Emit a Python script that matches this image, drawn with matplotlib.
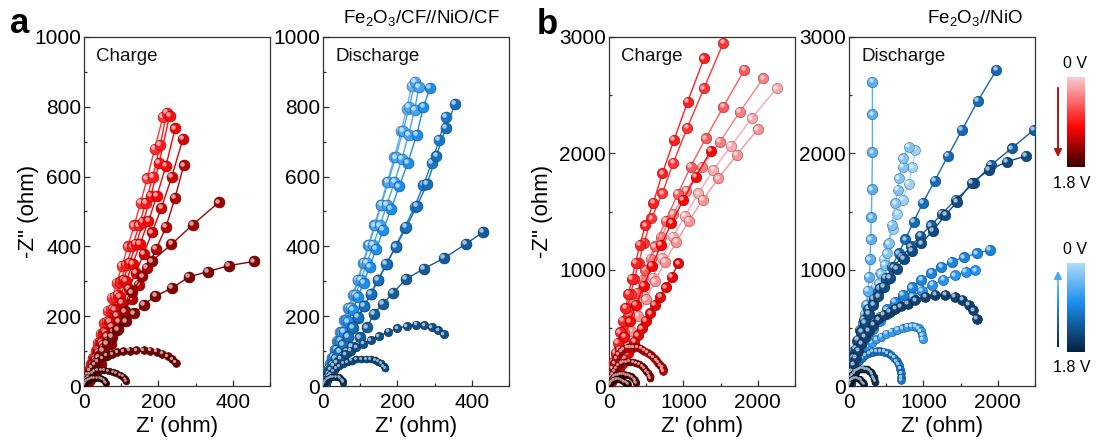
import matplotlib
matplotlib.use("Agg")
import matplotlib.pyplot as plt
import numpy as np
from matplotlib.colors import LinearSegmentedColormap, to_rgb
from matplotlib.transforms import offset_copy
from matplotlib.ticker import MultipleLocator
from matplotlib.collections import LineCollection

plt.rcParams.update({
    "font.family": "Liberation Sans",
    "mathtext.fontset": "custom",
    "mathtext.rm": "Liberation Sans",
    "mathtext.it": "Liberation Sans:italic",
    "axes.linewidth": 0.9,
    "axes.edgecolor": "#333333",
})

# ---- Fe2O3/CF//NiO/CF, charge (Z', -Z'' in ohm), one curve per potential ----
A_CHG_V = [0.76, 0.86, 0.95, 1.04, 1.19, 1.30, 1.40, 1.51, 1.58, 1.69, 1.80]
A_CHG_X = [
    [1, 3, 6, 10, 14, 19, 25, 31, 38, 46, 55, 65, 76, 88, 102, 118, 135, 152, 170, 190, 212],
    [1, 4, 7, 11, 16, 21, 27, 34, 42, 51, 61, 72, 84, 98, 113, 130, 148, 166, 185, 205, 222],
    [2, 4, 8, 12, 17, 23, 29, 37, 45, 55, 66, 78, 91, 106, 122, 140, 159, 180, 202, 230],
    [2, 5, 9, 13, 18, 24, 31, 39, 48, 58, 70, 83, 97, 113, 131, 151, 173, 196, 220, 245],
    [2, 5, 9, 14, 19, 26, 33, 41, 51, 62, 74, 88, 103, 120, 139, 160, 183, 208, 236, 266],
    [2, 5, 9, 14, 20, 27, 35, 44, 54, 66, 79, 94, 110, 128, 148, 170, 194, 220, 245, 268],
    [2, 5, 9, 14, 20, 27, 36, 46, 58, 72, 88, 110, 128, 157, 182, 235, 292, 362],
    [2, 5, 10, 16, 23, 31, 40, 50, 62, 76, 92, 112, 135, 161, 192, 236, 281, 333, 390, 457],
    [1, 3, 6, 10, 15, 21, 28, 37, 48, 61, 75, 90, 106, 123, 141, 160, 178, 195, 211, 225, 237, 246],
    [1, 3, 6, 10, 15, 21, 28, 36, 45, 55, 66, 77, 87, 96, 104, 110, 114],
    [1, 3, 6, 10, 15, 21, 28, 35, 42, 48, 53, 57, 60],
]
A_CHG_Y = [
    [3, 10, 20, 32, 46, 62, 80, 100, 124, 150, 180, 214, 252, 295, 344, 400, 460, 525, 595, 680, 770],
    [3, 10, 20, 32, 46, 62, 81, 102, 126, 153, 183, 217, 255, 298, 346, 400, 460, 525, 600, 690, 782],
    [3, 10, 20, 32, 46, 62, 81, 103, 127, 155, 186, 221, 260, 303, 352, 406, 470, 545, 640, 775],
    [3, 10, 20, 32, 46, 62, 80, 101, 125, 152, 183, 218, 256, 300, 350, 408, 472, 545, 630, 738],
    [3, 10, 19, 30, 43, 58, 75, 95, 117, 142, 170, 202, 238, 278, 325, 378, 440, 510, 600, 708],
    [3, 9, 18, 28, 40, 54, 70, 88, 108, 130, 155, 183, 215, 250, 290, 338, 392, 455, 540, 632],
    [1, 4, 8, 14, 22, 32, 46, 64, 88, 120, 161, 213, 268, 314, 357, 406, 462, 526],
    [5, 14, 25, 37, 50, 65, 82, 100, 120, 140, 162, 185, 208, 233, 258, 280, 312, 328, 345, 357],
    [5, 14, 24, 34, 44, 54, 63, 72, 80, 87, 92, 96, 99, 101, 102, 102, 101, 98, 93, 86, 77, 67],
    [4, 11, 19, 26, 33, 38, 42, 45, 46, 46, 44, 41, 37, 32, 27, 21, 15],
    [3, 8, 13, 18, 21, 23, 24, 24, 22, 19, 16, 12, 8],
]

# ---- Fe2O3/CF//NiO/CF, discharge ----
A_DIS_V = [0.45, 0.54, 0.59, 0.81, 0.99, 1.08, 1.26, 1.37, 1.44, 1.62]
A_DIS_X = [
    [1, 3, 6, 9, 13, 18, 24, 31, 38, 47, 57, 68, 80, 93, 107, 122, 138, 155, 173, 192, 210, 225, 238],
    [1, 3, 6, 10, 14, 19, 25, 32, 40, 49, 59, 70, 82, 95, 109, 124, 140, 157, 175, 195, 215, 232, 248],
    [2, 4, 7, 11, 16, 21, 27, 34, 43, 52, 63, 75, 88, 102, 118, 135, 153, 172, 192, 212, 230, 246, 258],
    [2, 4, 8, 12, 17, 23, 30, 38, 47, 57, 68, 80, 94, 109, 125, 143, 162, 183, 205, 228, 252, 270, 288],
    [2, 5, 9, 14, 20, 27, 35, 44, 55, 67, 80, 95, 111, 129, 149, 171, 195, 220, 246, 270, 292, 312, 330],
    [2, 5, 9, 14, 20, 27, 35, 44, 54, 66, 79, 94, 110, 128, 148, 170, 196, 224, 252, 280, 305, 330, 355],
    [2, 5, 9, 14, 20, 27, 35, 44, 54, 65, 78, 99, 119, 136, 161, 188, 224, 271, 325, 384, 430],
    [2, 5, 9, 14, 20, 28, 37, 48, 60, 74, 90, 108, 128, 150, 175, 200, 225, 250, 272, 292, 310, 325],
    [2, 5, 9, 14, 20, 27, 35, 44, 54, 65, 77, 90, 103, 116, 128, 139, 149, 157, 163, 167],
    [1, 3, 6, 10, 15, 21, 28, 35, 42, 47, 51, 54, 55],
]
A_DIS_Y = [
    [3, 10, 20, 32, 46, 62, 81, 103, 128, 156, 188, 223, 262, 305, 352, 404, 460, 520, 585, 655, 730, 795, 860],
    [3, 10, 20, 32, 46, 62, 81, 103, 128, 156, 188, 223, 262, 305, 352, 404, 460, 520, 585, 655, 730, 800, 872],
    [3, 10, 20, 32, 46, 62, 81, 103, 128, 156, 188, 223, 262, 305, 352, 404, 460, 520, 585, 650, 720, 790, 858],
    [4, 12, 22, 34, 48, 64, 83, 104, 128, 155, 185, 218, 255, 296, 342, 392, 447, 507, 572, 640, 720, 800, 855],
    [4, 11, 21, 33, 46, 61, 78, 97, 118, 141, 167, 196, 228, 264, 304, 349, 399, 454, 514, 575, 640, 705, 770],
    [4, 12, 22, 34, 47, 62, 79, 98, 119, 142, 168, 197, 229, 265, 305, 350, 400, 455, 515, 580, 660, 740, 808],
    [4, 11, 19, 28, 38, 49, 60, 72, 84, 97, 112, 139, 168, 206, 235, 267, 307, 336, 366, 407, 441],
    [5, 14, 25, 36, 47, 58, 69, 80, 91, 101, 111, 121, 132, 143, 155, 165, 172, 176, 174, 168, 160, 149],
    [4, 11, 19, 27, 35, 43, 51, 58, 64, 69, 73, 76, 78, 78, 77, 74, 70, 65, 58, 51],
    [3, 8, 14, 19, 23, 26, 27, 27, 25, 22, 18, 14, 10],
]

# ---- Fe2O3//NiO, charge ----
B_CHG_V = [0.18, 0.29, 0.40, 0.58, 0.76, 0.86, 1.01, 1.08, 1.30, 1.48, 1.66, 1.80]
B_CHG_X = [
    [5, 17, 48, 88, 138, 200, 275, 365, 470, 585, 715, 860, 1020, 1201, 1402, 1640, 1917, 2253],
    [6, 20, 52, 93, 145, 210, 290, 385, 495, 615, 755, 905, 1075, 1260, 1470, 1716, 1998],
    [7, 24, 50, 84, 128, 185, 255, 340, 440, 560, 700, 860, 1040, 1245, 1492, 1760, 2074],
    [6, 25, 54, 92, 140, 200, 275, 370, 485, 612, 762, 923, 1098, 1299, 1537, 1819],
    [5, 15, 31, 50, 73, 99, 129, 163, 201, 243, 290, 342, 400, 470, 570, 717, 865, 1053, 1277, 1537],
    [4, 13, 27, 45, 66, 90, 118, 148, 182, 220, 262, 308, 358, 412, 490, 596, 717, 874, 1057, 1277],
    [8, 23, 55, 95, 145, 207, 280, 365, 465, 575, 700, 840, 998, 1165, 1366],
    [12, 30, 52, 78, 108, 140, 175, 212, 252, 295, 340, 388, 440, 495, 555, 618, 690, 766, 842, 932],
    [6, 16, 30, 48, 70, 96, 126, 160, 198, 240, 285, 332, 380, 428, 475, 520, 562, 600, 635, 665, 690, 710, 722, 725],
    [5, 14, 28, 46, 68, 94, 124, 158, 195, 235, 277, 320, 362, 402, 440, 474, 503, 527, 545, 556],
    [4, 11, 22, 36, 53, 73, 96, 121, 148, 176, 205, 234, 262, 289, 313, 333, 348, 357, 361],
    [3, 8, 16, 26, 39, 55, 73, 93, 115, 138, 162, 185, 206, 225, 240, 250],
]
B_CHG_Y = [
    [10, 35, 95, 170, 260, 365, 485, 620, 770, 930, 1100, 1280, 1460, 1656, 1857, 2063, 2301, 2559],
    [12, 40, 100, 170, 255, 355, 470, 600, 745, 900, 1070, 1240, 1420, 1600, 1785, 1986, 2206],
    [20, 70, 140, 225, 330, 450, 590, 740, 910, 1090, 1280, 1480, 1680, 1885, 2100, 2358, 2645],
    [15, 60, 130, 220, 330, 460, 620, 800, 1000, 1200, 1420, 1650, 1885, 2129, 2401, 2716],
    [15, 45, 90, 145, 210, 285, 370, 460, 560, 670, 790, 920, 1060, 1230, 1440, 1656, 1920, 2221, 2559, 2951],
    [15, 45, 90, 145, 210, 285, 370, 460, 560, 670, 790, 920, 1060, 1210, 1380, 1576, 1828, 2115, 2444, 2817],
    [20, 55, 125, 210, 310, 425, 555, 700, 860, 1030, 1210, 1400, 1599, 1799, 2020],
    [14, 34, 59, 88, 120, 155, 193, 235, 280, 328, 380, 435, 495, 560, 625, 696, 768, 848, 940, 1054],
    [25, 65, 110, 155, 198, 237, 270, 297, 317, 330, 336, 336, 331, 320, 305, 287, 266, 244, 222, 200, 180, 162, 145, 130],
    [15, 42, 72, 102, 130, 155, 176, 192, 203, 209, 210, 207, 199, 187, 171, 152, 131, 109, 87, 66],
    [10, 26, 42, 57, 70, 81, 90, 96, 100, 102, 101, 98, 92, 84, 74, 62, 49, 36, 24],
    [6, 15, 24, 33, 41, 48, 53, 56, 57, 56, 52, 46, 38, 30, 22, 14],
]

# ---- Fe2O3//NiO, discharge ----
B_DIS_V = [0.11, 0.25, 0.47, 0.65, 0.76, 0.90, 1.04, 1.12, 1.26, 1.40, 1.51, 1.66, 1.80]
B_DIS_X = [
    [6, 18, 36, 60, 90, 125, 165, 208, 255, 305, 360, 415, 472, 530, 590, 650, 720, 802, 850, 892],
    [7, 20, 40, 65, 95, 130, 170, 215, 265, 335, 405, 432, 486, 509, 531, 576, 621, 658, 667, 721, 721, 802],
    [10, 30, 55, 82, 110, 138, 165, 190, 212, 235, 255, 272, 285, 292, 300, 308, 315, 315, 315],
    [5, 15, 30, 52, 80, 115, 155, 200, 250, 305, 365, 430, 500, 575, 650, 720, 785, 845, 895, 935, 965, 985, 990],
    [6, 22, 55, 100, 160, 235, 320, 415, 515, 620, 730, 850, 980, 1120, 1270, 1420, 1570, 1700],
    [8, 27, 72, 126, 180, 252, 329, 419, 509, 612, 721, 847, 973, 1108, 1243, 1387, 1545, 1716, 1892],
    [5, 14, 28, 46, 70, 100, 135, 175, 220, 268, 318, 370, 420, 470, 520, 565, 605, 640, 668, 688, 700, 705, 700],
    [8, 27, 59, 104, 149, 207, 261, 329, 396, 495, 576, 667, 757, 869, 995, 1153, 1329, 1518, 1734, 1982],
    [5, 18, 40, 68, 104, 148, 200, 260, 330, 410, 500, 600, 710, 830, 960, 1100, 1250, 1432, 1676, 1910, 2185, 2480],
    [5, 16, 34, 58, 88, 124, 166, 214, 268, 328, 395, 470, 553, 640, 740, 850, 973, 1126, 1297, 1455, 1649, 1883, 2122, 2378],
    [5, 16, 34, 58, 88, 124, 166, 214, 268, 328, 395, 470, 545, 622, 700, 790, 892, 1027, 1162, 1297, 1420, 1523, 1610, 1670, 1720],
    [3, 9, 18, 30, 46, 65, 88, 112, 138, 165, 192, 220, 246, 270, 292, 312, 330, 342, 348],
    [2, 6, 12, 20, 30, 42, 56, 72, 90, 110, 130, 150, 168, 182, 192, 198],
]
B_DIS_Y = [
    [20, 65, 125, 195, 275, 360, 450, 545, 645, 750, 860, 975, 1095, 1220, 1350, 1480, 1600, 1736, 1880, 2029],
    [25, 75, 140, 215, 300, 390, 485, 580, 680, 780, 883, 968, 1040, 1140, 1226, 1384, 1571, 1685, 1785, 1885, 1957, 2058],
    [25, 80, 150, 225, 300, 380, 460, 540, 620, 700, 819, 940, 1089, 1261, 1450, 1691, 2009, 2335, 2616],
    [15, 50, 95, 140, 185, 228, 268, 305, 340, 372, 400, 425, 448, 468, 485, 498, 510, 515, 510, 495, 470, 438, 400],
    [20, 95, 180, 265, 345, 420, 490, 555, 615, 670, 720, 770, 820, 870, 915, 950, 980, 995],
    [25, 123, 223, 309, 381, 453, 524, 596, 659, 725, 782, 848, 911, 974, 1026, 1069, 1106, 1140, 1169],
    [12, 40, 76, 113, 150, 185, 215, 242, 265, 282, 294, 300, 300, 295, 283, 265, 243, 215, 183, 148, 112, 78, 50],
    [30, 109, 195, 295, 395, 510, 610, 711, 811, 911, 1026, 1140, 1261, 1413, 1576, 1765, 1977, 2200, 2453, 2716],
    [40, 120, 210, 300, 390, 480, 570, 660, 750, 840, 930, 1020, 1110, 1200, 1290, 1380, 1480, 1600, 1742, 1900, 2043, 2200],
    [30, 95, 170, 245, 320, 395, 470, 545, 620, 695, 770, 850, 930, 1010, 1090, 1160, 1226, 1335, 1470, 1585, 1748, 1857, 1928, 1977],
    [20, 65, 120, 180, 240, 300, 360, 420, 475, 525, 572, 612, 640, 665, 685, 705, 735, 765, 782, 782, 768, 739, 700, 650, 580],
    [10, 30, 52, 74, 94, 110, 124, 136, 144, 149, 150, 148, 142, 132, 118, 100, 80, 58, 38],
    [6, 17, 28, 39, 48, 56, 62, 66, 68, 67, 63, 56, 47, 37, 26, 15],
]

V_MAX = 1.8

# ---- colour scales: 0 V (light) -> 1.8 V (dark) ----
REDS = LinearSegmentedColormap.from_list(
    "chg", [(0.0, "#F9CDD1"), (0.55, "#FF0505"), (1.0, "#3A0000")])
BLUES = LinearSegmentedColormap.from_list(
    "dis", [(0.0, "#AEDCF8"), (0.45, "#1C8EEE"), (1.0, "#06203D")])

W, H = 1099, 447
fig = plt.figure(figsize=(W / 100, H / 100), dpi=100)
fig.patch.set_facecolor("white")


def rect(x0, y0, w, h):
    return [x0 / W, 1 - (y0 + h) / H, w / W, h / H]


def shade(c, f):
    r = np.array(to_rgb(c))
    if f > 0:
        return tuple(r + (1 - r) * f)
    return tuple(r * (1 + f))


def spheres(ax, x, y, c, ms):
    # chain of shaded balls: body, dark rim, small glint up-left
    ax.plot(x, y, "-", color=c, lw=1.0, zorder=3)
    ax.plot(x, y, "o", ms=ms, mfc=c, mec=shade(c, -0.35), mew=0.5, zorder=3)
    glint = offset_copy(ax.transData, fig=fig, x=-ms * 0.17, y=ms * 0.17, units="points")
    ax.plot(x, y, "o", ms=ms * 0.42, mfc=shade(c, 0.62), mec="none",
            transform=glint, zorder=3)


def frame(ax, xmax, ymax, xmaj, ymaj):
    ax.set_xlim(0, xmax)
    ax.set_ylim(0, ymax)
    ax.xaxis.set_major_locator(MultipleLocator(xmaj))
    ax.xaxis.set_minor_locator(MultipleLocator(xmaj / 2))
    ax.yaxis.set_major_locator(MultipleLocator(ymaj))
    ax.yaxis.set_minor_locator(MultipleLocator(ymaj / 2))
    ax.tick_params(which="both", direction="in", top=False, right=False,
                   labelsize=15, color="#333333", width=0.9)
    ax.tick_params(which="major", length=4.5)
    ax.tick_params(which="minor", length=2.5)
    ax.tick_params(axis="x", pad=5)
    ax.tick_params(axis="y", pad=2)
    ax.set_xlabel("Z' (ohm)", fontsize=16)
    ax.xaxis.set_label_coords(0.5, -0.115)
    ax.xaxis.label.set_va("center")


panels = [
    (rect(84, 37, 186, 349), A_CHG_X, A_CHG_Y, A_CHG_V, REDS, (500, 1000, 200, 200), "Charge",
     [7.8] * 8 + [5.6, 4.8, 4.5]),
    (rect(323, 37, 186, 349), A_DIS_X, A_DIS_Y, A_DIS_V, BLUES, (500, 1000, 200, 200), "Discharge",
     [7.8] * 7 + [6.0, 5.0, 4.5]),
    (rect(609, 37, 186, 349), B_CHG_X, B_CHG_Y, B_CHG_V, REDS, (2500, 3000, 1000, 1000), "Charge",
     [7.5] * 8 + [5.6, 5.0, 4.6, 4.5]),
    (rect(849, 37, 186, 349), B_DIS_X, B_DIS_Y, B_DIS_V, BLUES, (2500, 3000, 1000, 1000), "Discharge",
     [7.2, 7.2, 7.5, 6.0, 7.2, 7.5, 5.6, 7.5, 7.5, 7.5, 7.0, 5.0, 4.5]),
]

axes = []
for pos, xs, ys, vs, cmap, (xmax, ymax, xmaj, ymaj), name, sizes in panels:
    ax = fig.add_axes(pos)
    for x, y, v, ms in zip(xs, ys, vs, sizes):
        spheres(ax, x, y, cmap(v / V_MAX), ms)
    frame(ax, xmax, ymax, xmaj, ymaj)
    ax.text(0.065, 0.945, name, transform=ax.transAxes, fontsize=13.5,
            ha="left", va="center", color="#111111")
    axes.append(ax)

for ax, xoff in [(axes[0], -0.296), (axes[2], -0.355)]:
    ax.set_ylabel('-Z" (ohm)', fontsize=16)
    ax.yaxis.set_label_coords(xoff, 0.5)
    ax.yaxis.label.set_va("center")

# panel letters and device names
fig.text(10 / W, 1 - 33 / H, "a", fontsize=25, fontweight="bold", ha="left", va="baseline")
fig.text(537 / W, 1 - 34 / H, "b", fontsize=25, fontweight="bold", ha="left", va="baseline")
fig.text(421 / W, 1 - 18 / H, r"Fe$_2$O$_3$/CF//NiO/CF", fontsize=13.5, ha="center", va="center")
fig.text(975 / W, 1 - 18 / H, r"Fe$_2$O$_3$//NiO", fontsize=13.5, ha="center", va="center")

# colour keys
grad = np.linspace(0, 1, 256)[:, None]
for cmap, y0, y1 in [(REDS, 77, 167), (BLUES, 263, 352)]:
    cax = fig.add_axes(rect(1067, y0, 18, y1 - y0))
    cax.imshow(grad, cmap=cmap, aspect="auto", interpolation="bilinear")
    cax.set_axis_off()
    fig.text(1075 / W, 1 - (y0 - 13) / H, "0 V", fontsize=11.5, ha="center", va="center")
    fig.text(1072 / W, 1 - (y1 + 16) / H, "1.8 V", fontsize=11.5, ha="center", va="center")

# direction arrows beside the keys
ov = fig.add_axes([0, 0, 1, 1])
ov.set_xlim(0, W)
ov.set_ylim(H, 0)
ov.set_axis_off()
ov.annotate("", xy=(1058, 160), xytext=(1058, 85),
            arrowprops=dict(arrowstyle="-|>", color="#B01515", lw=1.4, mutation_scale=11))
ys_arrow = np.linspace(347, 280, 30)
segs = [[(1058, a), (1058, b)] for a, b in zip(ys_arrow[:-1], ys_arrow[1:])]
cols = [BLUES(1 - 0.85 * i / len(segs)) for i in range(len(segs))]
ov.add_collection(LineCollection(segs, colors=cols, linewidths=1.4))
ov.annotate("", xy=(1058, 268), xytext=(1058, 282),
            arrowprops=dict(arrowstyle="-|>", color=BLUES(0.3), lw=1.4, mutation_scale=11))

fig.savefig("out.png", dpi=100, facecolor="white")
